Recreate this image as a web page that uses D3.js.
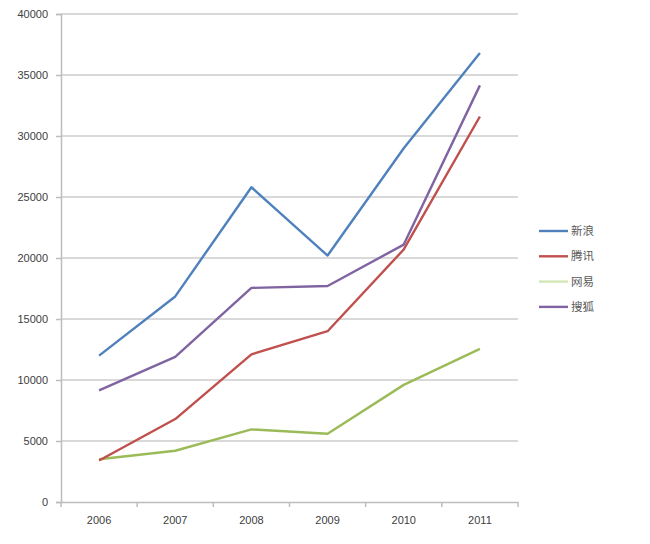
<!DOCTYPE html>
<html lang="zh">
<head>
  <meta charset="UTF-8">
  <title>门户网站</title>
  <script src="https://d3js.org/d3.v7.min.js"></script>
  <style>
    body {
      margin: 0;
      background: #fff;
      font-family: "Liberation Sans", Arial, sans-serif;
    }
    .tick text {
      fill: #404040;
      font-size: 11px;
    }
    .legend text {
      fill: #595959;
      font-size: 11.5px;
      font-family: "Noto Sans CJK SC", sans-serif;
    }
  </style>
</head>
<body>
  <div id="chart"></div>

  <script>
    const years = ["2006", "2007", "2008", "2009", "2010", "2011"];
    const sina  = [12000, 16850, 25800, 20200, 29000, 36800];
    const qq    = [3400, 6800, 12100, 14000, 20700, 31600];
    const wy    = [3500, 4200, 5950, 5600, 9600, 12550];
    const sohu  = [9150, 11900, 17550, 17700, 21100, 34150];
    const names = ["新浪", "腾讯", "网易", "搜狐"];
    const yTicks = [0, 5000, 10000, 15000, 20000, 25000, 30000, 35000, 40000];

    const colors = ["#4f81bd", "#c0504d", "#9bbb59", "#8064a2"];
    const legendColors = ["#4f81bd", "#c0504d", "#d3e6b6", "#8064a2"];

    const series = [sina, qq, wy, sohu].map((v, i) => ({name: names[i], values: v}));

    const margin = {top: 14, right: 132, bottom: 42, left: 61},
      width = 650 - margin.left - margin.right,
      height = 502 - margin.top;

    const svg = d3.select("#chart")
      .append("svg")
      .attr("width", 650)
      .attr("height", 544);

    const g = svg.append("g")
      .attr("transform", `translate(${margin.left},${margin.top})`);

    const x = d3.scaleBand()
      .domain(years)
      .range([0, width]);

    const y = d3.scaleLinear()
      .domain([0, 40000])
      .range([height, 0]);

    // grid
    g.append("g")
      .selectAll("line")
      .data(yTicks.filter(d => d > 0))
      .enter()
      .append("line")
      .attr("x1", 0)
      .attr("x2", width)
      .attr("y1", d => y(d))
      .attr("y2", d => y(d))
      .attr("stroke", "#d9d9d9")
      .attr("stroke-width", 2);

    // y axis
    const yAxis = g.append("g")
      .call(d3.axisLeft(y).tickValues(yTicks).tickSize(5).tickPadding(8).tickFormat(d3.format("d")));
    yAxis.select(".domain").attr("stroke", "#bdbdbd").attr("stroke-width", 1.5);
    yAxis.selectAll(".tick line").attr("stroke", "#bdbdbd").attr("stroke-width", 1.5);

    // x axis
    const xAxis = g.append("g")
      .attr("transform", `translate(0,${height})`)
      .call(d3.axisBottom(x).tickSize(0).tickPadding(14));
    xAxis.select(".domain").attr("stroke", "#bdbdbd").attr("stroke-width", 1.5);
    xAxis.selectAll(".bound")
      .data(d3.range(years.length + 1))
      .enter()
      .append("line")
      .attr("class", "bound")
      .attr("x1", i => i * x.step())
      .attr("x2", i => i * x.step())
      .attr("y1", 0)
      .attr("y2", 5)
      .attr("stroke", "#bdbdbd")
      .attr("stroke-width", 1.5);

    const line = d3.line()
      .x((d, i) => x(years[i]) + x.bandwidth() / 2)
      .y(d => y(d));

    // green first so the others sit on top like the original
    [2, 1, 3, 0].forEach(i => {
      g.append("path")
        .datum(series[i].values)
        .attr("fill", "none")
        .attr("stroke", colors[i])
        .attr("stroke-width", 2.4)
        .attr("stroke-linejoin", "round")
        .attr("d", line);
    });

    // legend
    const legend = svg.append("g")
      .attr("class", "legend")
      .attr("transform", "translate(539,231)");

    const item = legend.selectAll(".item")
      .data(series)
      .enter()
      .append("g")
      .attr("class", "item")
      .attr("transform", (d, i) => `translate(0,${i * 25.3})`);

    item.append("line")
      .attr("x1", 0)
      .attr("x2", 29)
      .attr("stroke", (d, i) => legendColors[i])
      .attr("stroke-width", 2.4);

    item.append("text")
      .attr("x", 32)
      .attr("dy", "0.35em")
      .text(d => d.name);
  </script>
</body>
</html>
